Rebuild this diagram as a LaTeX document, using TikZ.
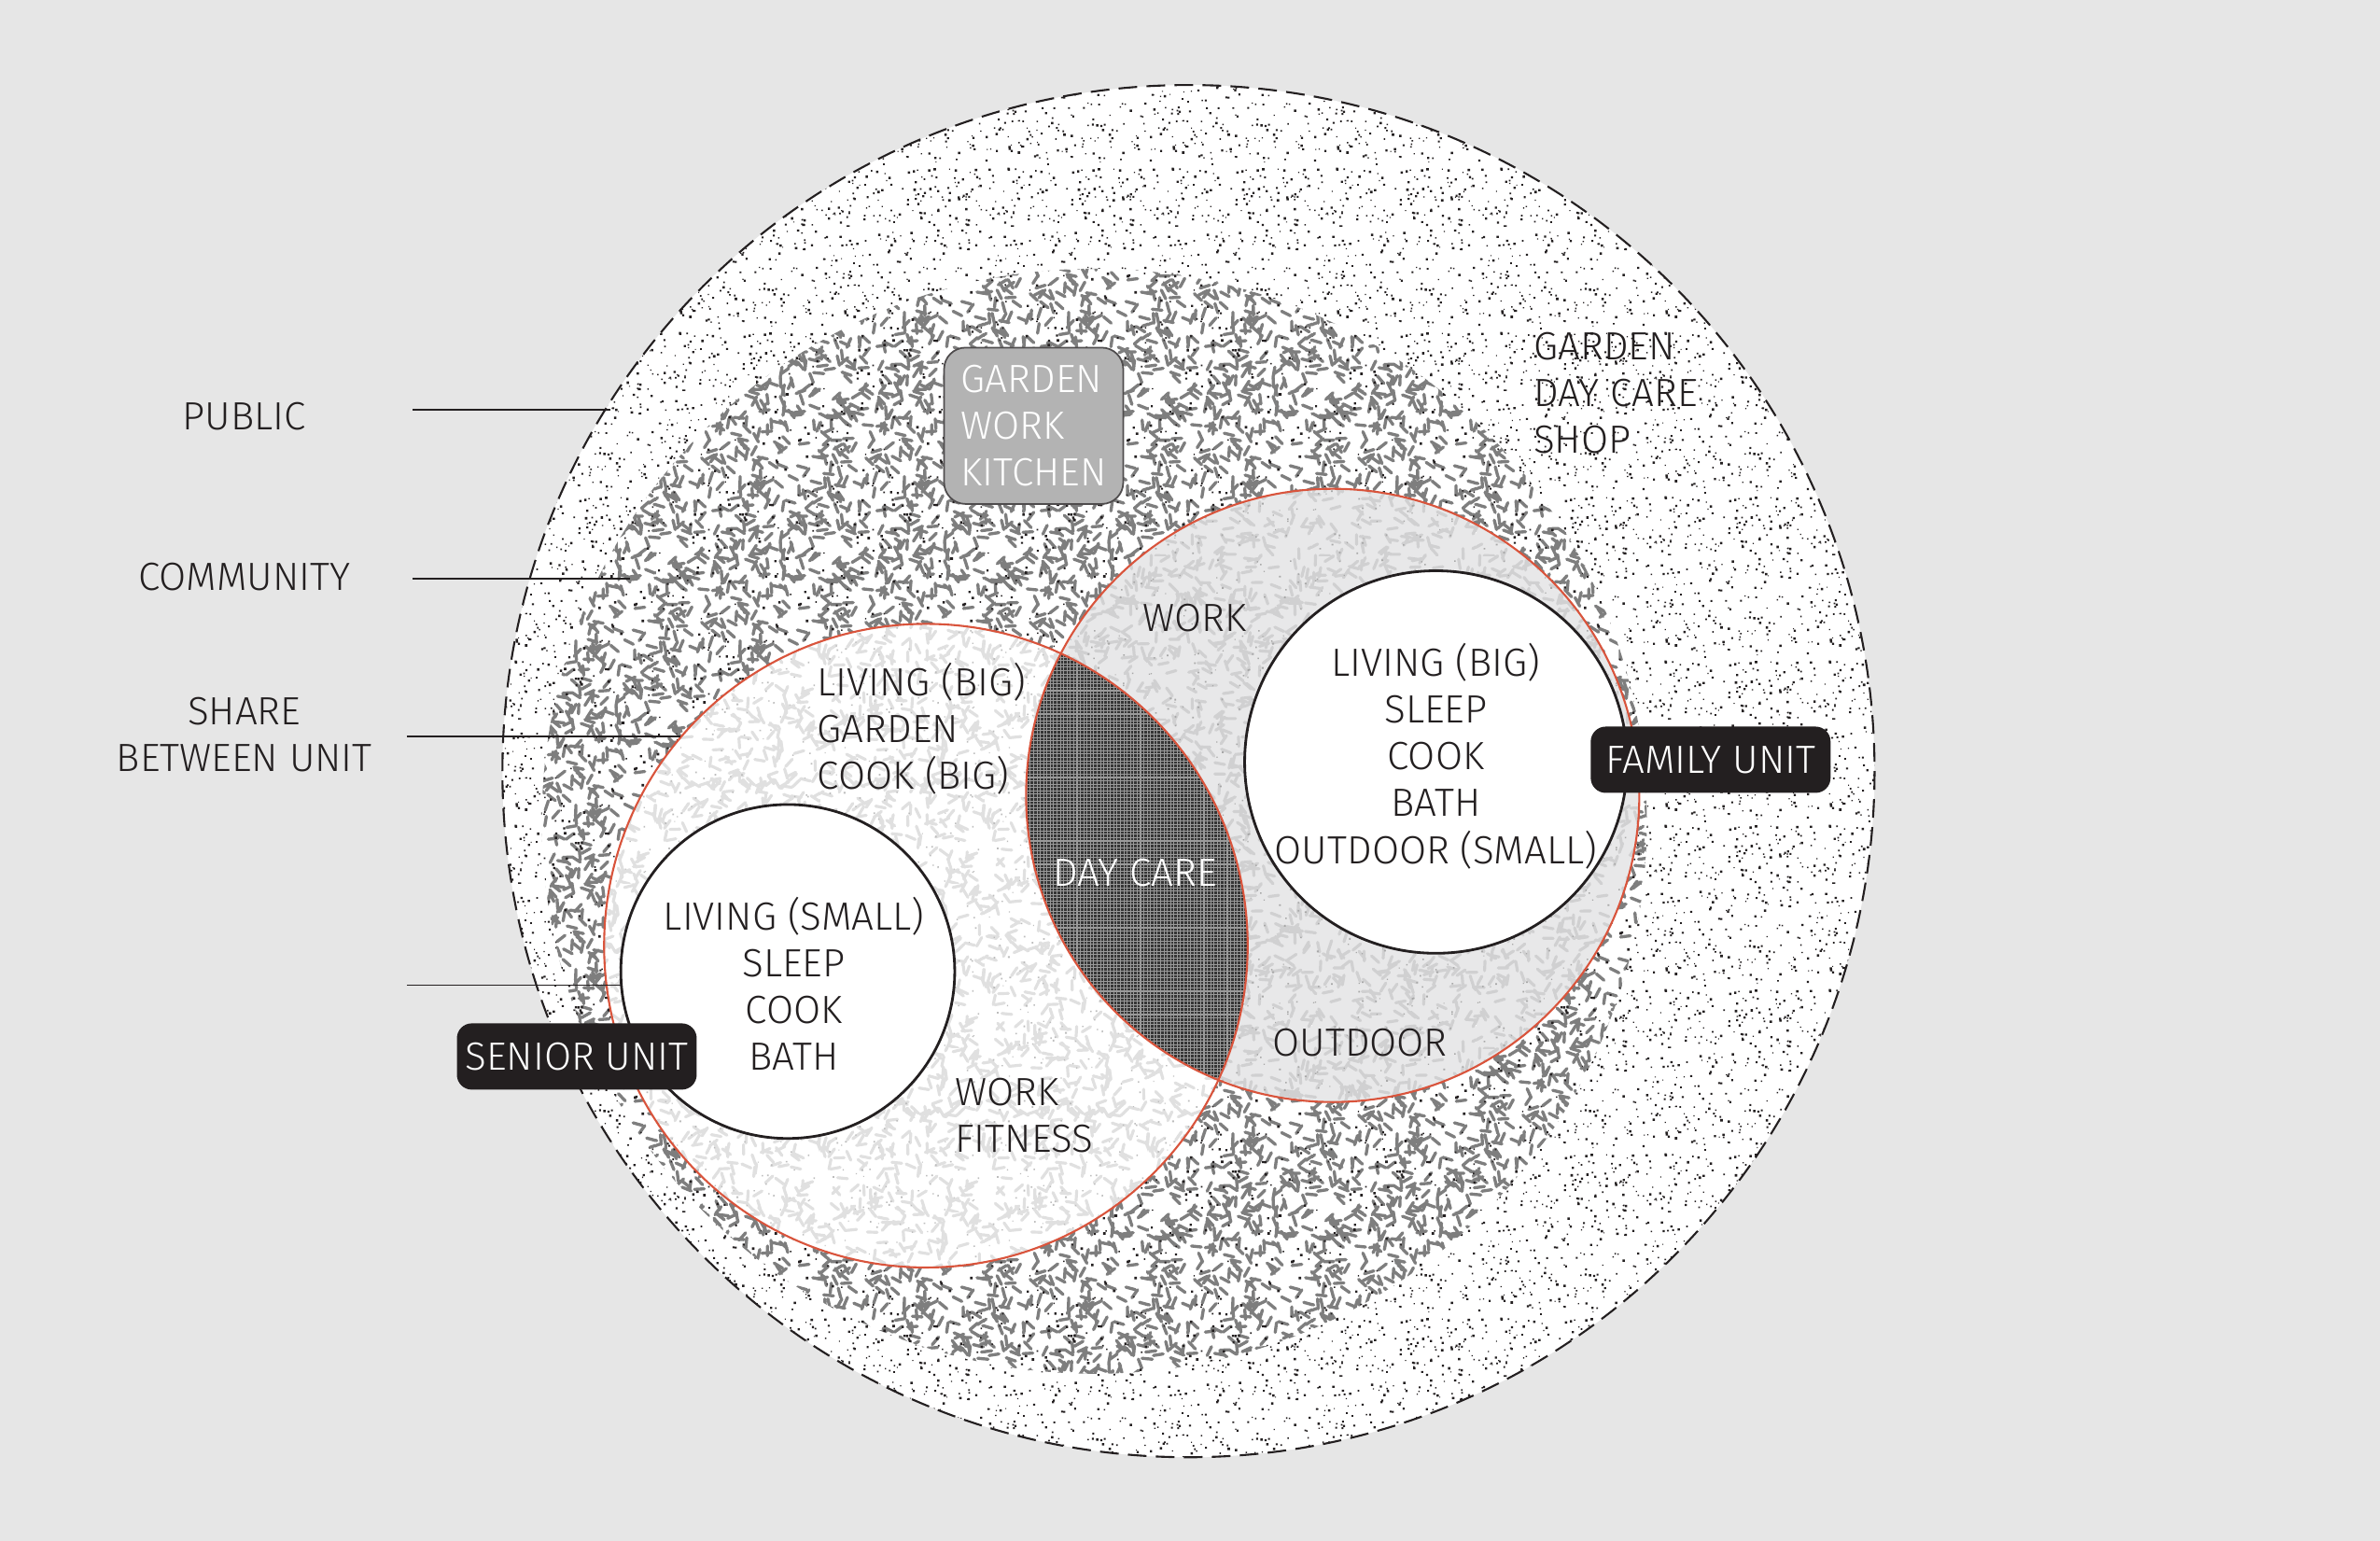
\documentclass[tikz,border=0pt]{standalone}
\usepackage{fontspec}
\IfFontExistsTF{Fira Sans Light}{\setmainfont{Fira Sans Light}}{\setmainfont{Fira Sans}}
\usetikzlibrary{patterns.meta}
\definecolor{bg}{HTML}{E6E6E6}
\definecolor{redline}{HTML}{D9543C}
\definecolor{ink}{HTML}{231F20}
\definecolor{boxgray}{HTML}{B3B3B3}
\definecolor{commdash}{HTML}{7E7E7E}
\definecolor{sendash}{HTML}{E0E0E0}
\definecolor{sendot}{HTML}{BDBDBD}
\definecolor{fambase}{HTML}{E8E8E9}
\definecolor{famdash}{HTML}{D0D0D1}
\definecolor{famdot}{HTML}{A8A8A8}
\definecolor{lensbase}{HTML}{353535}
\definecolor{lensline}{HTML}{9A9A9A}
\pgfmathsetseed{4242}
% random dots tile: name, colour, count, min size, size range
\newcommand{\dotpattern}[5]{%
\tikzdeclarepattern{
  name=#1, type=colored,
  bounding box={(0pt,0pt) and (50pt,50pt)},
  tile size={(50pt,50pt)},
  code={
    \fill[#2] \foreach \i [evaluate=\i as \px using 49*rnd,
                            evaluate=\i as \py using 49*rnd,
                            evaluate=\i as \ds using #4+#5*rnd] in {1,...,#3}
      { (\px pt,\py pt) rectangle ++(\ds pt,\ds pt) };
  }
}}
% random grains tile (wrap-around copies for seamless tiling): name, colour, count, width
\newcommand{\grainpattern}[4]{%
\tikzdeclarepattern{
  name=#1, type=colored,
  bounding box={(0pt,0pt) and (50pt,50pt)},
  tile size={(50pt,50pt)},
  code={
    \draw[#2, line width=#4, line cap=round]
      \foreach \i [evaluate=\i as \px using 50*rnd,
                   evaluate=\i as \py using 50*rnd,
                   evaluate=\i as \pa using 180*rnd,
                   evaluate=\i as \sx using {cos(\pa)>0 ? -50 : 50}] in {1,...,#3}
      { (\px pt,\py pt) -- ++(\pa:3pt)
        (\px pt+\sx pt,\py pt) -- ++(\pa:3pt)
        (\px pt,\py pt-50pt) -- ++(\pa:3pt)
        (\px pt+\sx pt,\py pt-50pt) -- ++(\pa:3pt) };
  }
}}
\dotpattern{pubdots}{ink}{350}{0.3}{0.45}
\grainpattern{commgrain}{commdash}{270}{0.95pt}
\dotpattern{commdots}{ink}{120}{0.4}{0.4}
\grainpattern{sengrain}{sendash}{240}{0.9pt}
\dotpattern{sendots}{sendot}{90}{0.3}{0.25}
\grainpattern{famgrain}{famdash}{240}{0.9pt}
\dotpattern{famdots}{famdot}{90}{0.3}{0.25}
\tikzset{
  lbl/.style={font=\fontsize{12}{14.3}\selectfont, inner sep=0pt, text=ink},
  tag/.style={lbl, fill=ink, text=white, rounded corners=0.16cm, minimum width=2.57cm, minimum height=0.71cm},
  leader/.style={draw=ink, line width=0.5pt},
}
\begin{document}
\begin{tikzpicture}[x=0.016263cm,y=-0.016263cm]
\fill[bg] (0,0) rectangle (1568,1015);
\useasboundingbox (0,0) rectangle (1568,1015);

% PUBLIC zone
\fill[white] (783,508) circle[radius=452];
\fill[pattern=pubdots] (783,508) circle[radius=452];

% COMMUNITY zone
\fill[white] (721,541) circle[radius=364];
\fill[pattern=commgrain] (721,541) circle[radius=364];
\fill[pattern=commdots] (721,541) circle[radius=364];

% SHARED zones
\fill[white] (610,623) circle[radius=212];
\fill[pattern=sengrain] (610,623) circle[radius=212];
\fill[pattern=sendots] (610,623) circle[radius=212];
\fill[fambase] (878,524) circle[radius=202];
\fill[pattern=famgrain] (878,524) circle[radius=202];
\fill[pattern=famdots] (878,524) circle[radius=202];

% DAY CARE lens
\begin{scope}
\clip (610,623) circle[radius=212];
\clip (878,524) circle[radius=202];
\fill[lensbase] (600,400) rectangle (840,730);
\draw[lensline, line width=0.3pt]
  \foreach \x in {670,672.2,...,830} {(\x,400) -- (\x,730)};
\draw[lensline, line width=0.3pt]
  \foreach \y in {400,402.2,...,730} {(660,\y) -- (840,\y)};
\end{scope}

% red outlines
\draw[redline, line width=0.6pt] (610,623) circle[radius=212];
\draw[redline, line width=0.6pt] (878,524) circle[radius=202];

% private units
\draw[ink, line width=0.8pt, fill=white] (519,640) circle[radius=110];
\draw[ink, line width=0.8pt, fill=white] (946,502) circle[radius=126];

% outer dashed boundary
\draw[ink, line width=0.6pt, dash pattern=on 0.2cm off 0.1cm] (783,508) circle[radius=452];

% labels left
\node[lbl] (public) at (161,274) {PUBLIC};
\node[lbl] (community) at (161,380) {COMMUNITY};
\node[lbl, align=center] (share) at (161,484) {SHARE\\BETWEEN UNIT};

\coordinate (pubA) at (272,270);  \coordinate (pubB) at (402,270);
\coordinate (comA) at (272,381);  \coordinate (comB) at (415,381);
\coordinate (shaA) at (268,485);  \coordinate (shaB) at (448,485);
\coordinate (senA) at (268,649);  \coordinate (senB) at (410,649);
\draw[leader] (pubA) -- (pubB);
\draw[leader] (comA) -- (comB);
\draw[leader] (shaA) -- (shaB);
\draw[leader] (senA) -- (senB);

% public programme
\node[lbl, align=left, anchor=west] (pubprog) at (1010,259) {GARDEN\\DAY CARE\\SHOP};

% community box
\node[lbl, fill=boxgray, draw=ink!80, line width=0.5pt, rounded corners=0.23cm,
      minimum width=1.92cm, minimum height=1.675cm, text=white, align=left] (combox) at (681,280.5)
      {GARDEN\\WORK\\KITCHEN};

% senior shared
\node[lbl, align=left, anchor=west] (senshare) at (538,480) {LIVING (BIG)\\GARDEN\\COOK (BIG)};
\node[lbl, align=left, anchor=west] (senwork) at (629,735) {WORK\\FITNESS};
\node[lbl, align=center] (senunit) at (523,648) {LIVING (SMALL)\\SLEEP\\COOK\\BATH};

% family shared
\node[lbl] (famwork) at (787,407) {WORK};
\node[lbl] (famout) at (896,687) {OUTDOOR};
\node[lbl, align=center] (famunit) at (946,498) {LIVING (BIG)\\SLEEP\\COOK\\BATH\\OUTDOOR (SMALL)};

% day care
\node[lbl, text=white] (daycare) at (748,575) {DAY CARE};

% tags
\node[tag] (seniortag) at (380,696) {SENIOR UNIT};
\node[tag] (familytag) at (1127,500.5) {FAMILY UNIT};
\end{tikzpicture}
\end{document}
